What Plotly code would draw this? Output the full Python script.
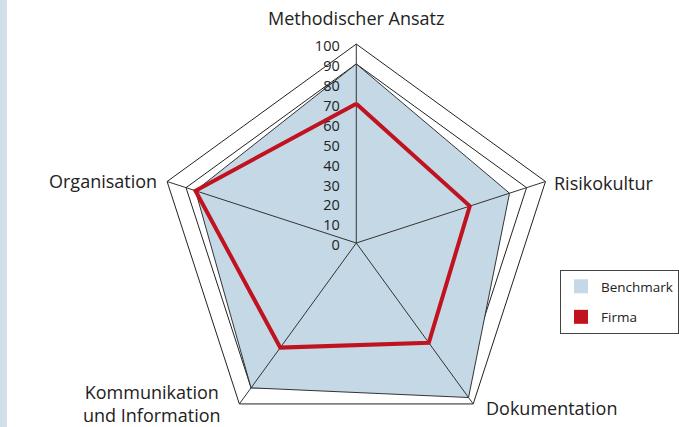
import math
import plotly.graph_objects as go

# ---- data ----
categories = ["Methodischer Ansatz", "Risikokultur", "Dokumentation",
              "Kommunikation<br>und Information", "Organisation"]
benchmark = [90, 81, 96, 90, 85]
firma = [70, 60, 62, 65, 85]
radial_ticks = [0, 10, 20, 30, 40, 50, 60, 70, 80, 90, 100]
grid_levels = [90]
series_names = ["Benchmark", "Firma"]

# ---- styles ----
W, H = 679, 450
cx, cy, R = 360, 243, 201
FONT = "Open Sans"
TXT = "#222222"
BLUE = "#c4d8e5"
RED = "#c1121f"

# label offsets (px) from each outer vertex, and anchors
label_style = [
    dict(dx=0, dy=-24, xanchor="center"),
    dict(dx=7, dy=2, xanchor="left"),
    dict(dx=11, dy=2, xanchor="left"),
    dict(dx=-17, dy=-2, xanchor="right"),
    dict(dx=-8, dy=0, xanchor="right"),
]

dom_x = [(cx - R) / W, (cx + R) / W]
dom_y = [1 - (cy + R) / H, 1 - (cy - R) / H]

theta_closed = categories + categories[:1]

fig = go.Figure()

fig.add_trace(go.Scatterpolar(
    r=benchmark + benchmark[:1], theta=theta_closed, subplot="polar",
    mode="lines", fill="toself", fillcolor=BLUE,
    line=dict(color="#333333", width=1), showlegend=False, name=series_names[0]))

fig.add_trace(go.Scatterpolar(
    r=firma + firma[:1], theta=theta_closed, subplot="polar2",
    mode="lines", line=dict(color=RED, width=4), showlegend=False,
    name=series_names[1]))

# legend-only entries (square swatches)
for nm, col in zip(series_names, [BLUE, RED]):
    fig.add_trace(go.Scatterpolar(
        r=[None], theta=[None], subplot="polar2", mode="markers",
        marker=dict(symbol="square", size=14, color=col),
        name=nm, legendgroup=nm, showlegend=True))

common_ang = dict(direction="clockwise", rotation=90, type="category",
                  categoryarray=categories, categoryorder="array")

# category labels placed around the outer vertices
annotations = []
n = len(categories)
for i, (cat, st) in enumerate(zip(categories, label_style)):
    a = math.radians(90 - 360 * i / n)
    px = cx + R * math.cos(a) + st["dx"]
    py = cy - R * math.sin(a) + st["dy"]
    annotations.append(dict(
        text=cat, x=px / W, y=1 - py / H, xref="paper", yref="paper",
        xanchor=st["xanchor"], yanchor="middle", align="center",
        showarrow=False, font=dict(family=FONT, size=18, color=TXT)))

fig.update_layout(
    width=W, height=H,
    margin=dict(l=0, r=0, t=0, b=0),
    paper_bgcolor="white",
    font=dict(family=FONT, color=TXT),
    polar=dict(
        domain=dict(x=dom_x, y=dom_y),
        bgcolor="white",
        gridshape="linear",
        angularaxis=dict(**common_ang, showline=True, linecolor="#222222",
                         linewidth=1, showgrid=False, showticklabels=False,
                         ticks=""),
        radialaxis=dict(range=[0, 100], tickvals=grid_levels,
                        showticklabels=False, showgrid=True,
                        gridcolor="#222222", gridwidth=1, showline=False,
                        ticks=""),
    ),
    polar2=dict(
        domain=dict(x=dom_x, y=dom_y),
        bgcolor="rgba(0,0,0,0)",
        gridshape="linear",
        angularaxis=dict(**common_ang, showline=False, showgrid=True,
                         gridcolor="#333333", gridwidth=1,
                         showticklabels=False, ticks=""),
        radialaxis=dict(range=[0, 100], tickvals=radial_ticks,
                        showgrid=False, showline=False, angle=90,
                        side="counterclockwise",
                        tickfont=dict(family=FONT, size=14.5, color=TXT),
                        ticks="outside", ticklen=3, tickcolor="rgba(0,0,0,0)"),
    ),
    annotations=annotations,
    showlegend=True,
    legend=dict(x=566 / W, xanchor="left", y=1 - 270 / H, yanchor="top",
                bgcolor="white", bordercolor="#444444", borderwidth=1,
                font=dict(family=FONT, size=13.5, color=TXT),
                itemwidth=30, tracegroupgap=10),
    shapes=[dict(type="rect", xref="paper", yref="paper", x0=0, x1=7 / W,
                 y0=0, y1=1, fillcolor="#cfe0ea", line=dict(width=0),
                 layer="below")],
)

fig.write_html(
    "out.html",
    config={"displayModeBar": False},
    post_script="document.body.style.margin='0';"
                "document.body.style.overflow='hidden';"
                "document.documentElement.style.overflow='hidden';")
